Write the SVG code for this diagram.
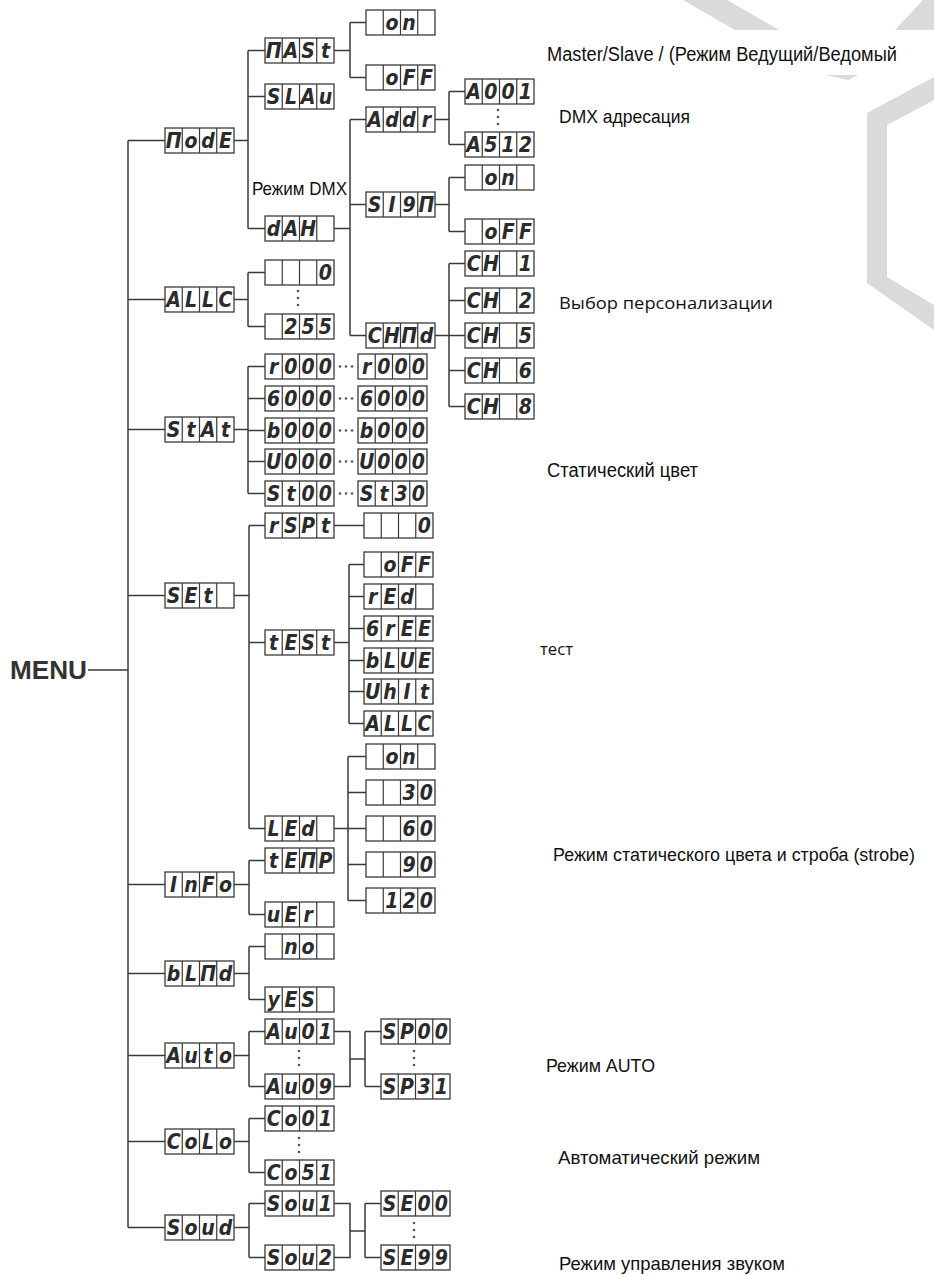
<svg xmlns="http://www.w3.org/2000/svg" width="934" height="1276" viewBox="0 0 934 1276">
<style>
.bx{fill:#fff;stroke:#3a3a3a;stroke-width:1.3}
.dv{stroke:#3a3a3a;stroke-width:1.2}
.seg{font-family:"Liberation Sans Narrow","DejaVu Sans Condensed","Liberation Sans",sans-serif;font-size:21px;font-style:italic;font-weight:bold;fill:#2b2b2b;text-anchor:middle}
.cn{fill:none;stroke:#3a3a3a;stroke-width:1.5}
.dot{fill:#555}
.lab{font-family:"Liberation Sans Narrow","Liberation Sans",sans-serif;fill:#111}
.lab2{font-family:"Open Sans","Liberation Sans",sans-serif;fill:#111}
.menu{font-family:"Liberation Sans",Arial,sans-serif;font-weight:bold;font-size:26px;fill:#333}
.wm{fill:#dadada}
</style>
<defs>
<symbol id="box4" overflow="visible">
<rect class="bx" x="0" y="0" width="69" height="25"/>
<path class="dv" d="M17.25,0V25M34.5,0V25M51.75,0V25"/>
</symbol>
<g id="vdots"><circle class="dot" cx="0" cy="0" r="1.3"/><circle class="dot" cx="0" cy="7" r="1.3"/><circle class="dot" cx="0" cy="14" r="1.3"/></g>
<g id="hdots"><circle class="dot" cx="0" cy="0" r="1.3"/><circle class="dot" cx="6" cy="0" r="1.3"/><circle class="dot" cx="12" cy="0" r="1.3"/></g>
</defs>
<rect width="934" height="1276" fill="#fff"/>
<g id="watermark">
<polygon class="wm" points="683,0 727,0 779,30 735,30"/>
<polygon class="wm" points="923,0 934,0 934,30 895,30"/>
<polygon class="wm" points="826,75 858,75 848,80"/>
<polygon class="wm" points="934,77 867,113 867,283 934,330 934,305 887,277 887,125 934,100"/>
</g>
<rect x="540" y="30" width="394" height="45" fill="#fff"/>

<g id="connectors">
<path class="cn" d="M88,670H128M128,140.5V1227.5M128,140.5H165M128,299.5H165M128,429.5H165M128,595.5H165M128,884.5H165M128,973.5H165M128,1055.5H165M128,1141.5H165M128,1227.5H165"/>
<path class="cn" d="M234,140.5H248M248,50.5V228.5M248,50.5H265M248,96.5H265M248,228.5H265"/>
<path class="cn" d="M334,50.5H350M350,22.5V77.5M350,22.5H366M350,77.5H366"/>
<path class="cn" d="M334,228.5H350M350,119.5V335.5M350,119.5H366M350,204.5H366M350,335.5H366"/>
<path class="cn" d="M435,119.5H449M449,91.5V144.5M449,91.5H465M449,144.5H465"/>
<path class="cn" d="M435,204.5H449M449,177.5V231.5M449,177.5H465M449,231.5H465"/>
<path class="cn" d="M435,335.5H449M449,263.5V406.5M449,263.5H465M449,300.5H465M449,335.5H465M449,370.5H465M449,406.5H465"/>
<path class="cn" d="M234,299.5H248M248,272.5V326.5M248,272.5H265M248,326.5H265"/>
<path class="cn" d="M234,429.5H248M248,366.5V493.5M248,366.5H265M248,398.5H265M248,430.5H265M248,461.5H265M248,493.5H265"/>
<path class="cn" d="M234,595.5H249M249,525.5V828.5M249,525.5H265M249,642.5H265M249,828.5H265"/>
<path class="cn" d="M334,525.5H364"/>
<path class="cn" d="M334,642.5H349M349,564.5V723.5M349,564.5H364M349,596.5H364M349,628.5H364M349,660.5H364M349,691.5H364M349,723.5H364"/>
<path class="cn" d="M334,828.5H348M348,756.5V900.5M348,756.5H366M348,792.5H366M348,828.5H366M348,864.5H366M348,900.5H366"/>
<path class="cn" d="M234,884.5H249M249,860.5V914.5M249,860.5H265M249,914.5H265"/>
<path class="cn" d="M234,973.5H249M249,946.5V999.5M249,946.5H265M249,999.5H265"/>
<path class="cn" d="M234,1055.5H249M249,1031.5V1086.5M249,1031.5H265M249,1086.5H265"/>
<path class="cn" d="M334,1031.5H350V1086.5H334M350,1059H365M365,1031.5V1086.5M365,1031.5H381M365,1086.5H381"/>
<path class="cn" d="M234,1141.5H249M249,1118.5V1172.5M249,1118.5H265M249,1172.5H265"/>
<path class="cn" d="M234,1227.5H249M249,1203.5V1257.5M249,1203.5H265M249,1257.5H265"/>
<path class="cn" d="M334,1203.5H350V1257.5H334M350,1231H365M365,1203.5V1257.5M365,1203.5H381M365,1257.5H381"/>
<use href="#vdots" x="498" y="110"/>
<use href="#vdots" x="298" y="291"/>
<use href="#vdots" x="299" y="1051"/>
<use href="#vdots" x="414" y="1051"/>
<use href="#vdots" x="299" y="1138"/>
<use href="#vdots" x="414" y="1223"/>
<use href="#hdots" x="340" y="366.5"/>
<use href="#hdots" x="340" y="398.5"/>
<use href="#hdots" x="340" y="430.5"/>
<use href="#hdots" x="340" y="461.5"/>
<use href="#hdots" x="340" y="493.5"/>
</g>

<text class="menu" x="10" y="679" textLength="77" lengthAdjust="spacingAndGlyphs">MENU</text>

<g id="n-mode"><use href="#box4" x="165" y="128"/><text class="seg" x="173.6 190.9 208.1 225.4" y="148">ΠodE</text></g>
<g id="n-allc"><use href="#box4" x="165" y="287"/><text class="seg" x="173.6 190.9 208.1 225.4" y="307">ALLC</text></g>
<g id="n-stat"><use href="#box4" x="165" y="417"/><text class="seg" x="173.6 190.9 208.1 225.4" y="437">StAt</text></g>
<g id="n-set"><use href="#box4" x="165" y="583"/><text class="seg" x="173.6 190.9 208.1" y="603">SEt</text></g>
<g id="n-info"><use href="#box4" x="165" y="872"/><text class="seg" x="173.6 190.9 208.1 225.4" y="892">InFo</text></g>
<g id="n-blnd"><use href="#box4" x="165" y="961"/><text class="seg" x="173.6 190.9 208.1 225.4" y="981">bLΠd</text></g>
<g id="n-auto"><use href="#box4" x="165" y="1043"/><text class="seg" x="173.6 190.9 208.1 225.4" y="1063">Auto</text></g>
<g id="n-colo"><use href="#box4" x="165" y="1129"/><text class="seg" x="173.6 190.9 208.1 225.4" y="1149">CoLo</text></g>
<g id="n-soud"><use href="#box4" x="165" y="1215"/><text class="seg" x="173.6 190.9 208.1 225.4" y="1235">Soud</text></g>

<g id="n-mast"><use href="#box4" x="265" y="38"/><text class="seg" x="273.6 290.9 308.1 325.4" y="58">ΠASt</text></g>
<g id="n-slav"><use href="#box4" x="265" y="84"/><text class="seg" x="273.6 290.9 308.1 325.4" y="104">SLAu</text></g>
<g id="n-dmx"><use href="#box4" x="265" y="216"/><text class="seg" x="273.6 290.9 308.1" y="236">dAH</text></g>
<g id="n-allc-0"><use href="#box4" x="265" y="260"/><text class="seg" x="325.4" y="280">0</text></g>
<g id="n-allc-255"><use href="#box4" x="265" y="314"/><text class="seg" x="290.9 308.1 325.4" y="334">255</text></g>
<g id="n-r000a"><use href="#box4" x="265" y="354"/><text class="seg" x="273.6 290.9 308.1 325.4" y="374">r000</text></g>
<g id="n-r000b"><use href="#box4" x="358" y="354"/><text class="seg" x="366.6 383.9 401.1 418.4" y="374">r000</text></g>
<g id="n-g000a"><use href="#box4" x="265" y="386"/><text class="seg" x="273.6 290.9 308.1 325.4" y="406">6000</text></g>
<g id="n-g000b"><use href="#box4" x="358" y="386"/><text class="seg" x="366.6 383.9 401.1 418.4" y="406">6000</text></g>
<g id="n-b000a"><use href="#box4" x="265" y="418"/><text class="seg" x="273.6 290.9 308.1 325.4" y="438">b000</text></g>
<g id="n-b000b"><use href="#box4" x="358" y="418"/><text class="seg" x="366.6 383.9 401.1 418.4" y="438">b000</text></g>
<g id="n-u000a"><use href="#box4" x="265" y="449"/><text class="seg" x="273.6 290.9 308.1 325.4" y="469">U000</text></g>
<g id="n-u000b"><use href="#box4" x="358" y="449"/><text class="seg" x="366.6 383.9 401.1 418.4" y="469">U000</text></g>
<g id="n-st00"><use href="#box4" x="265" y="481"/><text class="seg" x="273.6 290.9 308.1 325.4" y="501">St00</text></g>
<g id="n-st30"><use href="#box4" x="358" y="481"/><text class="seg" x="366.6 383.9 401.1 418.4" y="501">St30</text></g>
<g id="n-rspt"><use href="#box4" x="265" y="513"/><text class="seg" x="273.6 290.9 308.1 325.4" y="533">rSPt</text></g>
<g id="n-rspt-0"><use href="#box4" x="364" y="513"/><text class="seg" x="424.4" y="533">0</text></g>
<g id="n-test"><use href="#box4" x="265" y="630"/><text class="seg" x="273.6 290.9 308.1 325.4" y="650">tESt</text></g>
<g id="n-led"><use href="#box4" x="265" y="816"/><text class="seg" x="273.6 290.9 308.1" y="836">LEd</text></g>
<g id="n-temp"><use href="#box4" x="265" y="848"/><text class="seg" x="273.6 290.9 308.1 325.4" y="868">tEΠP</text></g>
<g id="n-ver"><use href="#box4" x="265" y="902"/><text class="seg" x="273.6 290.9 308.1" y="922">uEr</text></g>
<g id="n-no"><use href="#box4" x="265" y="934"/><text class="seg" x="290.9 308.1" y="954">no</text></g>
<g id="n-yes"><use href="#box4" x="265" y="987"/><text class="seg" x="273.6 290.9 308.1" y="1007">yES</text></g>
<g id="n-au01"><use href="#box4" x="265" y="1019"/><text class="seg" x="273.6 290.9 308.1 325.4" y="1039">Au01</text></g>
<g id="n-au09"><use href="#box4" x="265" y="1074"/><text class="seg" x="273.6 290.9 308.1 325.4" y="1094">Au09</text></g>
<g id="n-co01"><use href="#box4" x="265" y="1106"/><text class="seg" x="273.6 290.9 308.1 325.4" y="1126">Co01</text></g>
<g id="n-co51"><use href="#box4" x="265" y="1160"/><text class="seg" x="273.6 290.9 308.1 325.4" y="1180">Co51</text></g>
<g id="n-sou1"><use href="#box4" x="265" y="1191"/><text class="seg" x="273.6 290.9 308.1 325.4" y="1211">Sou1</text></g>
<g id="n-sou2"><use href="#box4" x="265" y="1245"/><text class="seg" x="273.6 290.9 308.1 325.4" y="1265">Sou2</text></g>

<g id="n-on1"><use href="#box4" x="366" y="10"/><text class="seg" x="391.9 409.1" y="30">on</text></g>
<g id="n-off1"><use href="#box4" x="366" y="65"/><text class="seg" x="391.9 409.1 426.4" y="85">oFF</text></g>
<g id="n-addr"><use href="#box4" x="366" y="107"/><text class="seg" x="374.6 391.9 409.1 426.4" y="127">Addr</text></g>
<g id="n-sign"><use href="#box4" x="366" y="192"/><text class="seg" x="374.6 391.9 409.1 426.4" y="212">SI9Π</text></g>
<g id="n-chnd"><use href="#box4" x="366" y="323"/><text class="seg" x="374.6 391.9 409.1 426.4" y="343">CHΠd</text></g>

<g id="n-t-off"><use href="#box4" x="364" y="552"/><text class="seg" x="389.9 407.1 424.4" y="572">oFF</text></g>
<g id="n-red"><use href="#box4" x="364" y="584"/><text class="seg" x="372.6 389.9 407.1" y="604">rEd</text></g>
<g id="n-gree"><use href="#box4" x="364" y="616"/><text class="seg" x="372.6 389.9 407.1 424.4" y="636">6rEE</text></g>
<g id="n-blue"><use href="#box4" x="364" y="648"/><text class="seg" x="372.6 389.9 407.1 424.4" y="668">bLUE</text></g>
<g id="n-whit"><use href="#box4" x="364" y="679"/><text class="seg" x="372.6 389.9 407.1 424.4" y="699">UhIt</text></g>
<g id="n-t-allc"><use href="#box4" x="364" y="711"/><text class="seg" x="372.6 389.9 407.1 424.4" y="731">ALLC</text></g>

<g id="n-led-on"><use href="#box4" x="366" y="744"/><text class="seg" x="391.9 409.1" y="764">on</text></g>
<g id="n-led-30"><use href="#box4" x="366" y="780"/><text class="seg" x="409.1 426.4" y="800">30</text></g>
<g id="n-led-60"><use href="#box4" x="366" y="816"/><text class="seg" x="409.1 426.4" y="836">60</text></g>
<g id="n-led-90"><use href="#box4" x="366" y="852"/><text class="seg" x="409.1 426.4" y="872">90</text></g>
<g id="n-led-120"><use href="#box4" x="366" y="888"/><text class="seg" x="391.9 409.1 426.4" y="908">120</text></g>

<g id="n-a001"><use href="#box4" x="465" y="79"/><text class="seg" x="473.6 490.9 508.1 525.4" y="99">A001</text></g>
<g id="n-a512"><use href="#box4" x="465" y="132"/><text class="seg" x="473.6 490.9 508.1 525.4" y="152">A512</text></g>
<g id="n-on2"><use href="#box4" x="465" y="165"/><text class="seg" x="490.9 508.1" y="185">on</text></g>
<g id="n-off2"><use href="#box4" x="465" y="219"/><text class="seg" x="490.9 508.1 525.4" y="239">oFF</text></g>
<g id="n-ch1"><use href="#box4" x="465" y="251"/><text class="seg" x="473.6 490.9 525.4" y="271">CH1</text></g>
<g id="n-ch2"><use href="#box4" x="465" y="288"/><text class="seg" x="473.6 490.9 525.4" y="308">CH2</text></g>
<g id="n-ch5"><use href="#box4" x="465" y="323"/><text class="seg" x="473.6 490.9 525.4" y="343">CH5</text></g>
<g id="n-ch6"><use href="#box4" x="465" y="358"/><text class="seg" x="473.6 490.9 525.4" y="378">CH6</text></g>
<g id="n-ch8"><use href="#box4" x="465" y="394"/><text class="seg" x="473.6 490.9 525.4" y="414">CH8</text></g>

<g id="n-sp00"><use href="#box4" x="381" y="1019"/><text class="seg" x="389.6 406.9 424.1 441.4" y="1039">SP00</text></g>
<g id="n-sp31"><use href="#box4" x="381" y="1074"/><text class="seg" x="389.6 406.9 424.1 441.4" y="1094">SP31</text></g>
<g id="n-se00"><use href="#box4" x="381" y="1191"/><text class="seg" x="389.6 406.9 424.1 441.4" y="1211">SE00</text></g>
<g id="n-se99"><use href="#box4" x="381" y="1245"/><text class="seg" x="389.6 406.9 424.1 441.4" y="1265">SE99</text></g>

<g id="labels">
<text class="lab" x="252" y="195" font-size="19" textLength="95" lengthAdjust="spacingAndGlyphs">Режим DMX</text>
<text class="lab" x="547" y="61" font-size="20" textLength="350" lengthAdjust="spacingAndGlyphs">Master/Slave / (Режим Ведущий/Ведомый</text>
<text class="lab" x="559" y="123" font-size="18" textLength="131" lengthAdjust="spacingAndGlyphs">DMX адресация</text>
<text class="lab2" x="559" y="309" font-size="17" textLength="214" lengthAdjust="spacingAndGlyphs">Выбор персонализации</text>
<text class="lab" x="547" y="477" font-size="20" textLength="151" lengthAdjust="spacingAndGlyphs">Статический цвет</text>
<text class="lab2" x="540" y="655" font-size="17" textLength="33" lengthAdjust="spacingAndGlyphs">тест</text>
<text class="lab" x="553" y="861" font-size="18" textLength="362" lengthAdjust="spacingAndGlyphs">Режим статического цвета и строба (strobe)</text>
<text class="lab" x="546" y="1072" font-size="19" textLength="109" lengthAdjust="spacingAndGlyphs">Режим AUTO</text>
<text class="lab" x="558" y="1164" font-size="19" textLength="202" lengthAdjust="spacingAndGlyphs">Автоматический режим</text>
<text class="lab" x="559" y="1270" font-size="19" textLength="226" lengthAdjust="spacingAndGlyphs">Режим управления звуком</text>
</g>
</svg>
